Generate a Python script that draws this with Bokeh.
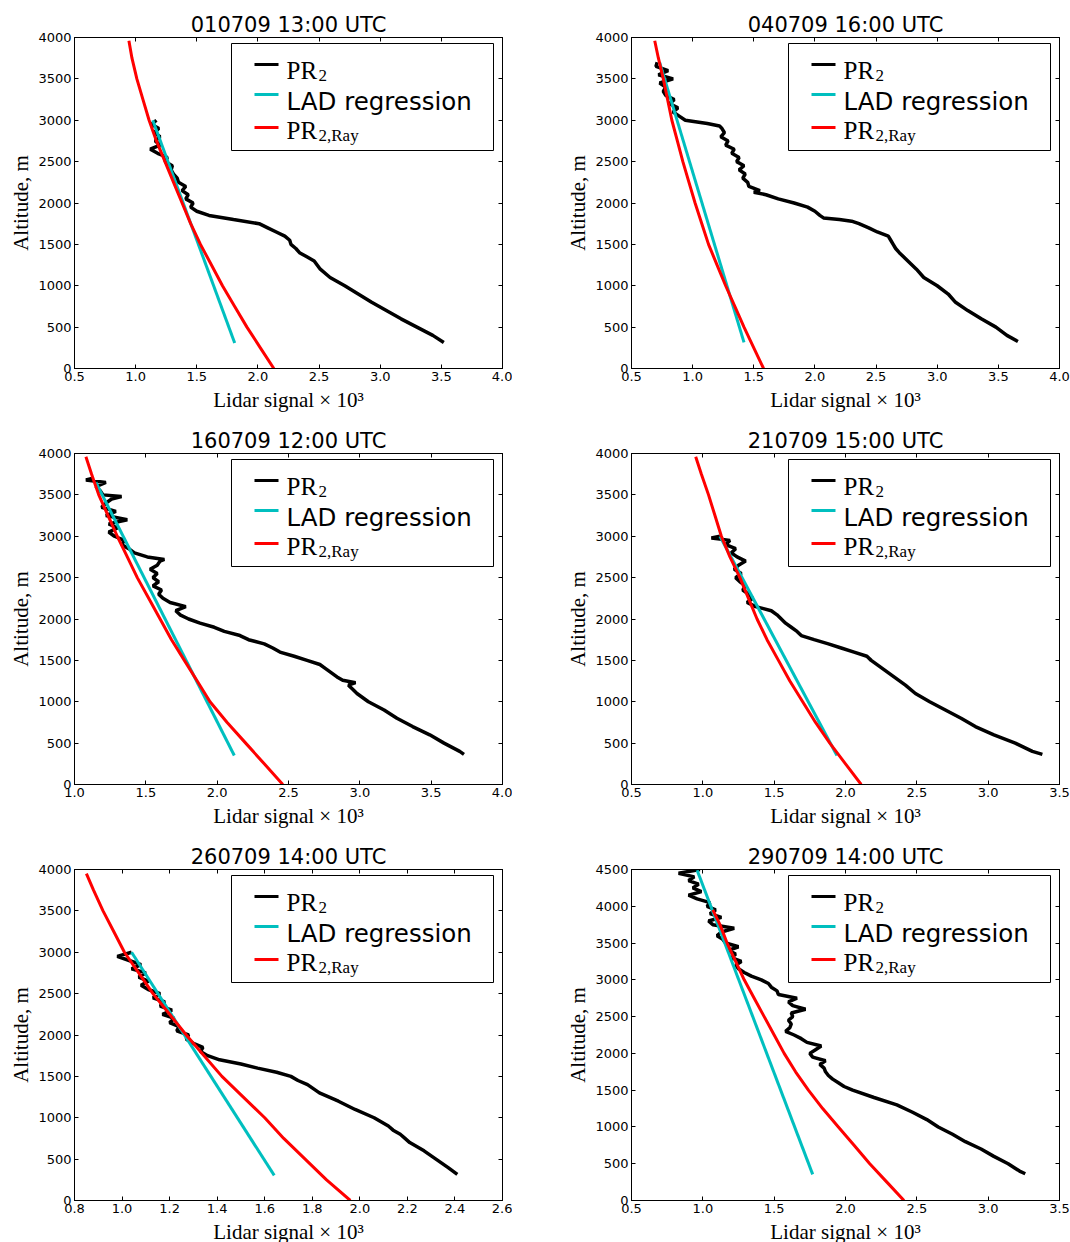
from bokeh.plotting import figure
from bokeh.layouts import gridplot
from bokeh.models import (Range1d, FixedTicker, PrintfTickFormatter, LinearAxis,
                          BoxAnnotation, Label, CustomJSTickFormatter)
from bokeh.embed import file_html
from bokeh.resources import INLINE

# ---------------- data ----------------
TITLES = ["010709 13:00 UTC", "040709 16:00 UTC", "160709 12:00 UTC",
          "210709 15:00 UTC", "260709 14:00 UTC", "290709 14:00 UTC"]

X_RANGES = [(0.5, 4.0), (0.5, 4.0), (1.0, 4.0), (0.5, 3.5), (0.8, 2.6), (0.5, 3.5)]
Y_RANGES = [(0, 4000), (0, 4000), (0, 4000), (0, 4000), (0, 4000), (0, 4500)]
X_TICKS = [
    [0.5, 1.0, 1.5, 2.0, 2.5, 3.0, 3.5, 4.0],
    [0.5, 1.0, 1.5, 2.0, 2.5, 3.0, 3.5, 4.0],
    [1.0, 1.5, 2.0, 2.5, 3.0, 3.5, 4.0],
    [0.5, 1.0, 1.5, 2.0, 2.5, 3.0, 3.5],
    [0.8, 1.0, 1.2, 1.4, 1.6, 1.8, 2.0, 2.2, 2.4, 2.6],
    [0.5, 1.0, 1.5, 2.0, 2.5, 3.0, 3.5],
]
Y_TICKS = [
    [0, 500, 1000, 1500, 2000, 2500, 3000, 3500, 4000],
    [0, 500, 1000, 1500, 2000, 2500, 3000, 3500, 4000],
    [0, 500, 1000, 1500, 2000, 2500, 3000, 3500, 4000],
    [0, 500, 1000, 1500, 2000, 2500, 3000, 3500, 4000],
    [0, 500, 1000, 1500, 2000, 2500, 3000, 3500, 4000],
    [0, 500, 1000, 1500, 2000, 2500, 3000, 3500, 4000, 4500],
]

# PR2 profiles (altitude m, lidar signal x1e3)
P1_ALT = [315, 400, 500, 600, 700, 800, 900, 1000, 1100, 1200, 1300, 1350, 1400, 1450, 1500,
          1550, 1600, 1650, 1700, 1750, 1800, 1850, 1900, 1950, 2000, 2050, 2100, 2150, 2200,
          2250, 2300, 2350, 2400, 2450, 2500, 2550, 2600, 2650, 2700, 2750, 2800, 2850, 2900,
          2950, 3000]
P1_PR2 = [3.52, 3.43, 3.30, 3.17, 3.05, 2.93, 2.82, 2.71, 2.59, 2.51, 2.46, 2.40, 2.34, 2.31, 2.27,
          2.26, 2.22, 2.15, 2.08, 2.01, 1.80, 1.60, 1.50, 1.45, 1.47, 1.41, 1.43, 1.38, 1.41,
          1.35, 1.34, 1.31, 1.29, 1.30, 1.24, 1.26, 1.18, 1.12, 1.20, 1.16, 1.20, 1.15, 1.19,
          1.13, 1.17]

P2_ALT = [327, 400, 500, 600, 700, 800, 900, 1000, 1100, 1200, 1300, 1400, 1450, 1500, 1550,
          1600, 1650, 1700, 1750, 1780, 1800, 1820, 1850, 1900, 1950, 2000, 2050, 2100, 2130,
          2150, 2200, 2250, 2300, 2350, 2400, 2450, 2500, 2550, 2600, 2650, 2700, 2750, 2800,
          2850, 2900, 2930, 2960, 3000, 3050, 3100, 3150, 3200, 3250, 3300, 3350, 3400, 3450,
          3500, 3550, 3600, 3650, 3700]
P2_PR2 = [3.66, 3.57, 3.48, 3.36, 3.25, 3.15, 3.09, 3.00, 2.89, 2.83, 2.76, 2.69, 2.66, 2.64, 2.62,
          2.60, 2.51, 2.44, 2.36, 2.30, 2.20, 2.07, 2.04, 2.00, 1.94, 1.83, 1.70, 1.60, 1.50,
          1.55, 1.46, 1.45, 1.41, 1.43, 1.38, 1.42, 1.36, 1.38, 1.32, 1.34, 1.27, 1.29, 1.23,
          1.26, 1.24, 1.22, 1.12, 0.94, 0.89, 0.84, 0.88, 0.81, 0.85, 0.78, 0.76, 0.78, 0.73,
          0.84, 0.72, 0.80, 0.70, 0.71]

P3_ALT = [364, 400, 500, 600, 700, 800, 900, 1000, 1100, 1150, 1200, 1230, 1260, 1300, 1400,
          1450, 1500, 1550, 1600, 1650, 1700, 1750, 1800, 1850, 1900, 1950, 2000, 2050, 2100,
          2150, 2200, 2250, 2300, 2350, 2400, 2450, 2500, 2550, 2600, 2650, 2700, 2720, 2750,
          2800, 2850, 2900, 2950, 3000, 3050, 3100, 3150, 3200, 3250, 3300, 3350, 3400, 3450,
          3480, 3500, 3550, 3600, 3650, 3680, 3700]
P3_PR2 = [3.73, 3.70, 3.59, 3.49, 3.37, 3.26, 3.17, 3.06, 2.98, 2.95, 2.92, 2.97, 2.88, 2.84, 2.76,
          2.72, 2.63, 2.54, 2.44, 2.39, 2.33, 2.22, 2.16, 2.05, 1.98, 1.88, 1.80, 1.74, 1.71,
          1.78, 1.67, 1.62, 1.59, 1.61, 1.55, 1.59, 1.55, 1.58, 1.53, 1.58, 1.60, 1.63, 1.51,
          1.42, 1.38, 1.33, 1.35, 1.28, 1.24, 1.30, 1.24, 1.37, 1.22, 1.29, 1.19, 1.22, 1.26,
          1.33, 1.20, 1.18, 1.15, 1.22, 1.08, 1.13]

P4_ALT = [364, 400, 500, 600, 700, 800, 900, 1000, 1100, 1200, 1300, 1400, 1500, 1550, 1600,
          1650, 1700, 1750, 1800, 1850, 1900, 1950, 2000, 2050, 2100, 2150, 2200, 2250, 2300,
          2350, 2400, 2450, 2500, 2550, 2600, 2650, 2700, 2750, 2800, 2850, 2900, 2950, 2980,
          3000]
P4_PR2 = [3.38, 3.31, 3.19, 3.04, 2.91, 2.81, 2.70, 2.59, 2.49, 2.42, 2.34, 2.26, 2.18, 2.15, 2.06,
          1.97, 1.88, 1.78, 1.69, 1.66, 1.62, 1.58, 1.55, 1.52, 1.48, 1.37, 1.31, 1.35, 1.32,
          1.28, 1.30, 1.26, 1.23, 1.27, 1.22, 1.25, 1.30, 1.24, 1.20, 1.23, 1.16, 1.19, 1.06,
          1.12]

P5_ALT = [315, 400, 500, 600, 700, 750, 800, 850, 900, 1000, 1100, 1200, 1300, 1400, 1450,
          1500, 1550, 1600, 1650, 1700, 1750, 1800, 1850, 1900, 1950, 2000, 2050, 2100, 2150,
          2200, 2250, 2300, 2350, 2400, 2450, 2500, 2550, 2600, 2650, 2700, 2750, 2800, 2850,
          2900, 2950, 3000]
P5_PR2 = [2.41, 2.37, 2.32, 2.27, 2.21, 2.19, 2.17, 2.14, 2.12, 2.06, 1.98, 1.91, 1.83, 1.78, 1.74,
          1.71, 1.65, 1.57, 1.50, 1.41, 1.36, 1.33, 1.34, 1.30, 1.27, 1.28, 1.23, 1.24, 1.20,
          1.22, 1.17, 1.21, 1.16, 1.18, 1.13, 1.16, 1.11, 1.08, 1.11, 1.07, 1.10, 1.04, 1.08,
          1.03, 0.98, 1.04]

P6_ALT = [364, 400, 500, 600, 700, 800, 900, 1000, 1100, 1200, 1300, 1400, 1500, 1550, 1600,
          1650, 1700, 1750, 1800, 1850, 1900, 1950, 2000, 2050, 2100, 2150, 2200, 2250, 2300,
          2350, 2400, 2450, 2500, 2550, 2600, 2650, 2700, 2750, 2800, 2850, 2900, 2950, 3000,
          3050, 3100, 3150, 3200, 3250, 3300, 3350, 3400, 3450, 3500, 3550, 3600, 3650, 3700,
          3750, 3800, 3850, 3900, 3950, 4000, 4050, 4100, 4150, 4200, 4250, 4300, 4350, 4400,
          4450, 4500]
P6_PR2 = [3.26, 3.22, 3.14, 3.04, 2.95, 2.84, 2.75, 2.65, 2.57, 2.47, 2.36, 2.20, 2.05, 1.99, 1.95,
          1.91, 1.88, 1.86, 1.85, 1.82, 1.86, 1.77, 1.75, 1.79, 1.83, 1.73, 1.69, 1.64, 1.58,
          1.61, 1.62, 1.60, 1.63, 1.62, 1.72, 1.63, 1.60, 1.66, 1.53, 1.52, 1.48, 1.46, 1.41,
          1.34, 1.29, 1.25, 1.23, 1.27, 1.20, 1.23, 1.18, 1.25, 1.16, 1.14, 1.10, 1.13, 1.22,
          1.07, 1.04, 1.13, 1.05, 1.09, 1.03, 1.05, 0.96, 0.90, 0.99, 0.93, 0.97, 0.90, 0.94,
          0.83, 0.98]

# Rayleigh profiles PR2,Ray
RAY_ALT = [
    [0, 250, 500, 750, 1000, 1250, 1500, 1750, 2000, 2250, 2500, 2750, 3000, 3250, 3500, 3750, 3960],
    [0, 250, 500, 750, 1000, 1250, 1500, 1750, 2000, 2250, 2500, 2750, 3000, 3250, 3500, 3750, 3960],
    [0, 250, 500, 750, 1000, 1250, 1500, 1750, 2000, 2250, 2500, 2750, 3000, 3250, 3500, 3750, 3960],
    [0, 250, 500, 750, 1000, 1250, 1500, 1750, 2000, 2250, 2500, 2750, 3000, 3250, 3500, 3750, 3960],
    [0, 250, 500, 750, 1000, 1250, 1500, 1750, 2000, 2250, 2500, 2750, 3000, 3250, 3500, 3750, 3950],
    [0, 250, 500, 750, 1000, 1250, 1500, 1750, 2000, 2250, 2500, 2750, 3000, 3250, 3500, 3750, 3950],
]
RAY_SIG = [
    [2.13, 2.02, 1.91, 1.81, 1.71, 1.62, 1.53, 1.45, 1.38, 1.31, 1.24, 1.17, 1.11, 1.06, 1.01, 0.97, 0.945],
    [1.58, 1.50, 1.42, 1.345, 1.27, 1.20, 1.13, 1.075, 1.02, 0.97, 0.92, 0.875, 0.83, 0.795, 0.76, 0.72, 0.69],
    [2.46, 2.33, 2.20, 2.07, 1.95, 1.86, 1.77, 1.68, 1.60, 1.52, 1.44, 1.37, 1.30, 1.235, 1.17, 1.12, 1.08],
    [2.11, 2.00, 1.89, 1.79, 1.70, 1.61, 1.53, 1.45, 1.38, 1.32, 1.26, 1.19, 1.13, 1.085, 1.04, 0.99, 0.95],
    [1.96, 1.86, 1.77, 1.68, 1.60, 1.51, 1.42, 1.345, 1.27, 1.20, 1.13, 1.07, 1.01, 0.965, 0.92, 0.88, 0.85],
    [2.41, 2.29, 2.17, 2.06, 1.95, 1.84, 1.74, 1.65, 1.57, 1.50, 1.43, 1.36, 1.29, 1.23, 1.17, 1.12, 1.07],
]

# LAD regression lines (end points)
LAD_ALT = [[307, 3000], [315, 3700], [351, 3650], [351, 3000], [303, 3000], [355, 4490]]
LAD_SIG = [[1.81, 1.14], [1.42, 0.73], [2.12, 1.15], [1.94, 1.12], [1.64, 1.04], [1.77, 0.96]]

PR_ALT = [P1_ALT, P2_ALT, P3_ALT, P4_ALT, P5_ALT, P6_ALT]
PR_SIG = [P1_PR2, P2_PR2, P3_PR2, P4_PR2, P5_PR2, P6_PR2]

LEG_COLORS = ["black", "#00bfbf", "red"]

# ---------------- styling ----------------
FW, FH = 428, 331
SANS = "DejaVu Sans"
SERIF = "Liberation Serif"


def style_axis(ax):
    ax.major_tick_in = 4
    ax.major_tick_out = 0
    ax.minor_tick_line_color = None
    ax.axis_line_color = "black"
    ax.major_tick_line_color = "black"
    ax.major_label_text_font = SANS
    ax.major_label_text_font_size = "13px"
    ax.major_label_text_color = "black"
    ax.major_label_standoff = 3
    ax.axis_label_text_font = SERIF
    ax.axis_label_text_font_size = "21px"
    ax.axis_label_text_font_style = "normal"
    ax.axis_label_text_color = "black"


def add_legend(p):
    L, R = FW - 9 - 262, FW - 9
    T = FH - 6
    B = T - 107
    p.add_layout(BoxAnnotation(left=L, right=R, top=T, bottom=B,
                               left_units="screen", right_units="screen",
                               top_units="screen", bottom_units="screen",
                               fill_color="white", fill_alpha=1.0,
                               line_color="black", line_width=1, line_alpha=1.0))
    for off, c in zip([21, 51, 84], LEG_COLORS):
        yc = T - off
        p.add_layout(BoxAnnotation(left=L + 23, right=L + 47, top=yc + 1.5, bottom=yc - 1.5,
                                   left_units="screen", right_units="screen",
                                   top_units="screen", bottom_units="screen",
                                   fill_color=c, fill_alpha=1.0, line_color=None))
    common = dict(x_units="screen", y_units="screen", text_align="left",
                  text_baseline="alphabetic", text_color="black")
    p.add_layout(Label(x=L + 55, y=T - 27, text="PR", text_font=SERIF,
                       text_font_size="25px", **common))
    p.add_layout(Label(x=L + 87, y=T - 32, text="2", text_font=SERIF,
                       text_font_size="17px", **common))
    p.add_layout(Label(x=L + 55, y=T - 58, text="LAD regression", text_font=SANS,
                       text_font_size="24.5px", **common))
    p.add_layout(Label(x=L + 55, y=T - 87, text="PR", text_font=SERIF,
                       text_font_size="25px", **common))
    p.add_layout(Label(x=L + 87, y=T - 92, text="2,Ray", text_font=SERIF,
                       text_font_size="17px", **common))


def make_panel(i):
    col, row = i % 2, i // 2
    p = figure(frame_width=FW, frame_height=FH,
               x_range=Range1d(*X_RANGES[i]), y_range=Range1d(*Y_RANGES[i]),
               output_backend="svg", toolbar_location=None,
               min_border_left=74 if col == 0 else 119,
               min_border_right=10 if col == 0 else 11,
               min_border_top=37,
               min_border_bottom=48 if row < 2 else 42,
               title=TITLES[i])
    p.title.text_font = SANS
    p.title.text_font_size = "21px"
    p.title.text_font_style = "normal"
    p.title.text_color = "black"
    p.title.align = "center"
    p.title.standoff = 2
    p.outline_line_color = "black"
    p.outline_line_alpha = 1.0
    p.outline_line_width = 1
    p.grid.visible = False
    p.background_fill_color = "white"
    p.border_fill_color = "white"

    p.xaxis.ticker = FixedTicker(ticks=X_TICKS[i])
    p.yaxis.ticker = FixedTicker(ticks=Y_TICKS[i])
    p.xaxis.formatter = PrintfTickFormatter(format="%.1f")
    p.yaxis.formatter = PrintfTickFormatter(format="%d")
    p.xaxis.axis_label = "Lidar signal \u00d7 10\u00b3"
    p.yaxis.axis_label = "Altitude, m"
    style_axis(p.xaxis[0])
    style_axis(p.yaxis[0])
    p.xaxis.axis_label_standoff = 4
    p.yaxis.axis_label_standoff = 2

    blank = CustomJSTickFormatter(code="return ''")
    rax = LinearAxis(ticker=FixedTicker(ticks=Y_TICKS[i]), formatter=blank)
    tax = LinearAxis(ticker=FixedTicker(ticks=X_TICKS[i]), formatter=blank)
    for ax in (rax, tax):
        style_axis(ax)
        ax.major_label_standoff = 0
        ax.major_label_text_font_size = "1px"
    p.add_layout(rax, "right")
    p.add_layout(tax, "above")

    p.line(PR_SIG[i], PR_ALT[i], line_color="black", line_width=3.5)
    p.line(LAD_SIG[i], LAD_ALT[i], line_color="#00bfbf", line_width=3)
    p.line(RAY_SIG[i], RAY_ALT[i], line_color="red", line_width=3)
    add_legend(p)
    return p


panels = [make_panel(i) for i in range(6)]
grid = gridplot([[panels[0], panels[1]], [panels[2], panels[3]], [panels[4], panels[5]]],
                toolbar_location=None)

with open("out.html", "w") as f:
    f.write(file_html(grid, INLINE))
